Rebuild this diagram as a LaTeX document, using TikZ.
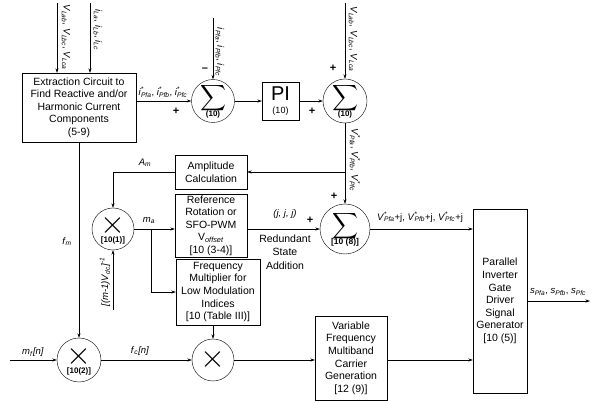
\documentclass[tikz,border=0pt]{standalone}
\usepackage{fontspec}
\setmainfont{Liberation Sans}
\usepackage{graphicx}
\usetikzlibrary{arrows.meta, positioning, calc}

\newcommand{\sg}[2]{\textit{#1}\textsubscript{\textit{#2}}}
\newcommand{\sgs}[2]{\textit{#1}\rlap{\textsuperscript{*}}\textsubscript{\textit{#2}}}
\newcommand{\bigx}{\scalebox{3.2}{$\times$}}
\newcommand{\bigsum}{\scalebox{1.8}{$\displaystyle\sum$}}

\begin{document}
\begin{tikzpicture}[x=1pt, y=-1pt,
  box/.style={draw, minimum width=72pt, minimum height=34pt, inner sep=1pt,
              align=center, font=\fontsize{10.5}{12.6}\selectfont},
  txt/.style={align=center, inner sep=0pt, font=\fontsize{10.5}{13.5}\selectfont},
  sumnode/.style={draw, circle, minimum size=42pt, inner sep=0pt, align=center},
  mulnode/.style={draw, circle, minimum size=42pt, inner sep=0pt, align=center},
  ref/.style={font=\bfseries\fontsize{8}{8}\selectfont},
  lbl/.style={font=\fontsize{9.5}{11}\selectfont, inner sep=1pt},
  sgn/.style={font=\bfseries\fontsize{11}{11}\selectfont, inner sep=0pt},
  arr/.style={-{Stealth[length=4.5pt, width=3pt]}, semithick}
]
  \useasboundingbox (0,0) rectangle (595,403);

  \node[box, minimum width=114pt, minimum height=69pt] (ext) at (79,107.5) {Extraction Circuit to\\Find Reactive and/or\\Harmonic Current\\Components\\(5-9)};
  \node[sumnode] (sum1) at (213,101) {\bigsum\\[-3pt]{\fontsize{8}{8}\bfseries\selectfont(10)}};
  \node[box, minimum width=37pt, minimum height=38pt, inner sep=0pt] (pi) at (280.5,101) {{\fontsize{20}{20}\selectfont PI}\\[1pt]{\small(10)}};
  \node[sumnode, minimum size=44pt] (sum2) at (345,101) {\bigsum\\[-3pt]{\fontsize{8}{8}\bfseries\selectfont(10)}};
  \node[sumnode, minimum size=50pt] (sum3) at (345,229) {\bigsum\\[-3pt]{\fontsize{8.5}{8.5}\bfseries\selectfont[10 (8)]}};
  \node[box] (amp) at (211,172) {Amplitude\\Calculation};
  \node[box, minimum height=63pt] (refrot) at (211,225.5) {Reference\\Rotation or\\SFO-PWM\\V\textsubscript{\textit{offset}}\\{[10 (3-4)]}};
  \node[box, minimum width=84pt, minimum height=66pt] (fmul) at (218,292) {Frequency\\Multiplier for\\Low Modulation\\Indices\\{[10 (Table III)]}};
  \node[mulnode] (mul1) at (113,229) {\bigx\\[-3pt]{\fontsize{8}{8}\bfseries\selectfont[10(1)]}};
  \node[mulnode, minimum size=44pt] (mul2) at (79,360) {\bigx\\[-3pt]{\fontsize{8}{8}\bfseries\selectfont[10(2)]}};
  \node[mulnode] (mul3) at (213,360) {\bigx};
  \node[box, minimum height=84pt] (vfm) at (351,358) {Variable\\Frequency\\Multiband\\Carrier\\Generation\\{[12 (9)]}};
  \node[box, minimum width=54pt, minimum height=184pt] (pig) at (500,301) {Parallel\\Inverter\\Gate\\Driver\\Signal\\Generator\\{[10 (5)]}};
  \node[txt] (rsa) at (285,252) {Redundant\\State\\Addition};

  \coordinate (vl1) at (57,3);
  \coordinate (il) at (90,3);
  \coordinate (ipf) at (213,18);
  \coordinate (vl2) at (345,3);
  \coordinate (vdc) at (113,310);
  \coordinate (mfn) at (10,360);
  \coordinate (spf) at (590,301);
  \coordinate (mabr) at (151,229);

  \draw[arr] (vl1) -- (vl1 |- ext.north);
  \draw[arr] (il) -- (il |- ext.north);
  \draw[arr] (ext.east |- sum1) -- (sum1);
  \draw[arr] (ipf) -- (sum1);
  \draw[arr] (sum1) -- (pi);
  \draw[arr] (pi) -- (sum2);
  \draw[arr] (vl2) -- (sum2);
  \draw[arr] (sum2) -- (sum3);
  \draw[arr] (sum2.south |- amp.east) -- (amp.east);
  \draw[arr] (amp.west) -| (mul1);
  \draw[arr] (mul1) -- (refrot.west |- mul1);
  \draw[arr] (mabr) |- (fmul.west);
  \draw[arr] (refrot.east |- sum3) -- (sum3);
  \draw[arr] (sum3) -- (pig.west |- sum3);
  \draw[arr] (fmul.south -| mul3) -- (mul3);
  \draw[arr] (ext.south -| mul2) -- (mul2);
  \draw[arr] (vdc) -- (mul1);
  \draw[arr] (mfn) -- (mul2);
  \draw[arr] (mul2) -- (mul3);
  \draw[arr] (mul3) -- (vfm.west |- mul3);
  \draw[arr] (vfm.east |- mul3) -- (pig.west |- mul3);
  \draw[arr] (pig.east |- spf) -- (spf);

  \node[lbl, rotate=-90] (vl1t) at (66,37) {\sg{V}{Lab}, \sg{V}{Lbc}, \sg{V}{Lca}};
  \node[lbl, rotate=-90] (ilt) at (98,30) {\sg{i}{La}, \sg{i}{Lb}, \sg{i}{Lc}};
  \node[lbl, rotate=-90] (ipft) at (220,52) {\sg{i}{Pfa}, \sg{i}{Pfb}, \sg{i}{Pfc}};
  \node[lbl, rotate=-90] (vl2t) at (353,39) {\sg{V}{Lab}, \sg{V}{Lbc}, \sg{V}{Lca}};
  \node[lbl, rotate=-90] (vpft) at (355,160) {\sgs{V}{Pfa}, \sgs{V}{Pfb}, \sgs{V}{Pfc}};
  \node[lbl] (ipst) at (163,92) {\sgs{i}{Pfa}, \sgs{i}{Pfb}, \sgs{i}{Pfc}};
  \node[lbl] (amt) at (145,163) {\sg{A}{m}};
  \node[lbl] (mat) at (149,220) {\sg{m}{a}};
  \node[lbl] (fmt) at (67,242) {\sg{f}{m}};
  \node[lbl, rotate=90] (vdct) at (105,282) {\textit{[(m-1)}\sg{V}{dc}\textit{]}\textsuperscript{\textit{-1}}};
  \node[lbl] (mft) at (33,352) {\sg{m}{f}\textit{[n]}};
  \node[lbl] (fct) at (140,351) {\sg{f}{c}\textit{[n]}};
  \node[lbl] (jt) at (285,214) {\textit{(j, j, j)}};
  \node[lbl] (vjt) at (420,217) {\sgs{V}{Pfa}+j, \sgs{V}{Pfb}+j, \sgs{V}{Pfc}+j};
  \node[lbl] (spt) at (558,292) {\sg{s}{Pfa}, \sg{s}{Pfb}, \sg{s}{Pfc}};

  \node[sgn] (p1) at (176,111) {+};
  \node[sgn] (m1) at (205,70) {--};
  \node[sgn] (p2) at (312,111) {+};
  \node[sgn] (p3) at (333,68) {+};
  \node[sgn] (p4) at (334,196) {+};
  \node[sgn] (p5) at (310,220) {+};
\end{tikzpicture}
\end{document}
